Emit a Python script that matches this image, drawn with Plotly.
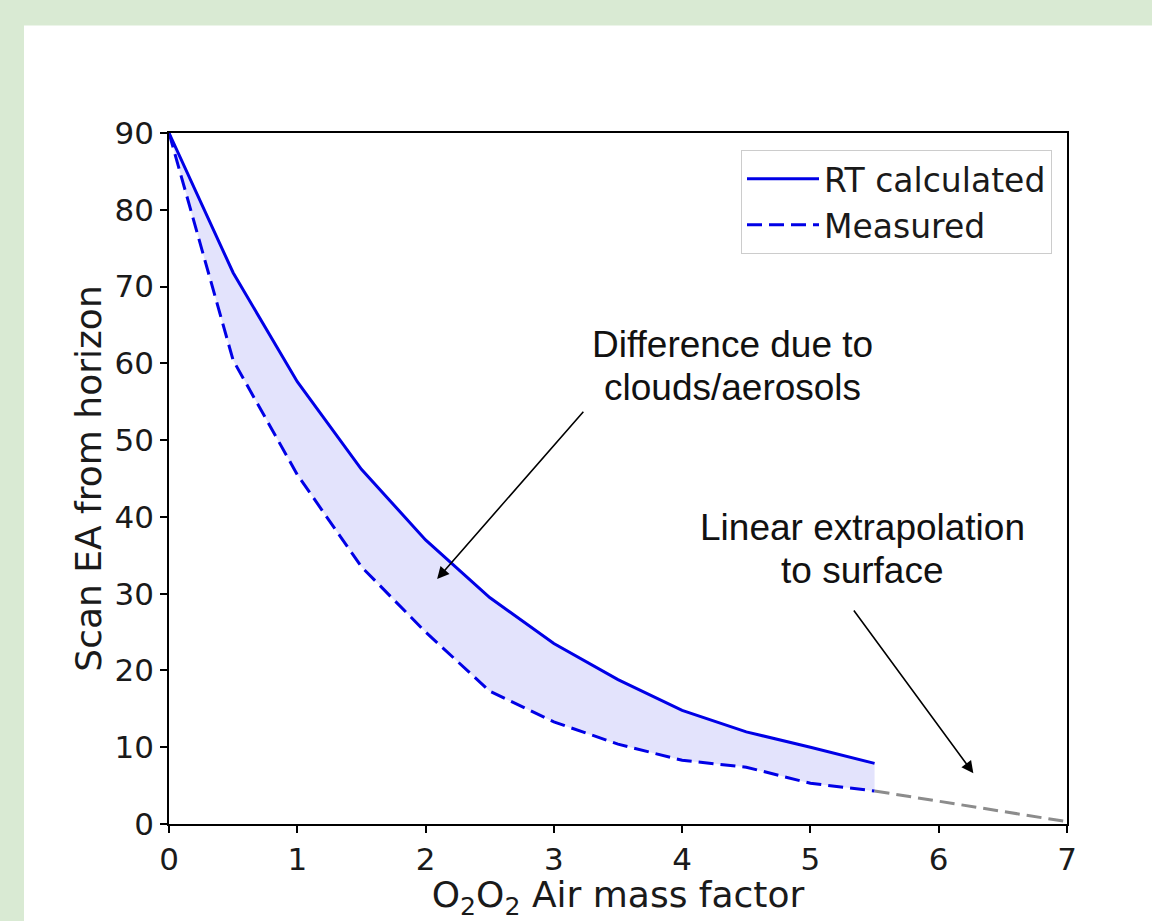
import plotly.graph_objects as go

# ---- data ----
amf = [0, 0.5, 1, 1.5, 2, 2.5, 3, 3.5, 4, 4.5, 5, 5.5]
rt_calculated = [90, 71.8, 57.6, 46.2, 37.0, 29.5, 23.5, 18.8, 14.8, 12.0, 10.0, 7.9]
measured = [90, 60.4, 45.5, 33.5, 25.0, 17.3, 13.3, 10.4, 8.3, 7.4, 5.3, 4.3]
extrap_x = [5.5, 7.0]
extrap_y = [4.3, 0.3]
x_ticks = [0, 1, 2, 3, 4, 5, 6, 7]
y_ticks = [0, 10, 20, 30, 40, 50, 60, 70, 80, 90]

W, H = 1152, 921
L, R, T, B = 169, 85, 133, 93
pw, ph = W - L - R, H - T - B

def px(xp):
    return (xp - L) / pw

def py(yp):
    return (H - B - yp) / ph

BLUE = "#0000e6"
TXT = "#1a1a1a"
TICKFONT = dict(family="DejaVu Sans", size=31, color=TXT)
TITLEFONT = dict(family="DejaVu Sans", size=36, color=TXT)
ANNFONT = dict(family="Liberation Sans, Arial", size=37, color="#111111")

fig = go.Figure()
# shaded band between the two curves (no legend entry)
fig.add_trace(go.Scatter(x=amf, y=measured, mode="lines", showlegend=False,
                         line=dict(width=0), hoverinfo="skip"))
fig.add_trace(go.Scatter(x=amf, y=rt_calculated, mode="lines", showlegend=False,
                         line=dict(width=0), fill="tonexty",
                         fillcolor="rgba(40,40,230,0.13)", hoverinfo="skip"))
# the curves
fig.add_trace(go.Scatter(x=amf, y=rt_calculated, mode="lines", name="RT calculated",
                         line=dict(color=BLUE, width=3)))
fig.add_trace(go.Scatter(x=amf, y=measured, mode="lines", name="Measured",
                         line=dict(color=BLUE, width=3, dash="15px,7px")))
fig.add_trace(go.Scatter(x=extrap_x, y=extrap_y, mode="lines", showlegend=False,
                         line=dict(color="#8c8c8c", width=3, dash="15px,7px")))

# green frame with white panel
fig.add_shape(type="rect", xref="paper", yref="paper",
              x0=px(24), x1=px(W + 5), y0=py(H + 5), y1=py(25),
              fillcolor="white", line=dict(width=0), layer="below")

axis_common = dict(showline=True, linecolor="black", linewidth=1.5, mirror=True,
                   ticks="outside", ticklen=7, tickwidth=1.5, tickcolor="black",
                   showgrid=False, zeroline=False, tickfont=TICKFONT)
fig.update_xaxes(range=[0, 7], tickvals=x_ticks, ticktext=[str(v) for v in x_ticks],
                 title=dict(text="O<sub>2</sub>O<sub>2</sub> Air mass factor",
                            font=TITLEFONT, standoff=7), **axis_common)
fig.update_yaxes(range=[0, 90], tickvals=y_ticks, ticktext=[str(v) for v in y_ticks],
                 title=dict(text="Scan EA from horizon", font=TITLEFONT, standoff=2),
                 **axis_common)

ann = []
# arrows (head at x,y ; tail at ax,ay) in data coords
ann.append(dict(x=2.09, y=31.9, ax=3.24, ay=53.9, xref="x", yref="y", axref="x", ayref="y",
                text="", showarrow=True, arrowhead=2, arrowsize=1.5, arrowwidth=1.6,
                arrowcolor="black"))
ann.append(dict(x=6.27, y=6.6, ax=5.33, ay=28.0, xref="x", yref="y", axref="x", ayref="y",
                text="", showarrow=True, arrowhead=2, arrowsize=1.5, arrowwidth=1.6,
                arrowcolor="black"))
# text lines
for txt, xc, yc in [("Difference due to", 732, 346), ("clouds/aerosols", 732, 389),
                    ("Linear extrapolation", 862, 530), ("to surface", 862, 573)]:
    ann.append(dict(x=px(xc), y=py(yc), xref="paper", yref="paper", text=txt,
                    showarrow=False, font=ANNFONT, xanchor="center", yanchor="middle"))

fig.update_layout(
    width=W, height=H,
    margin=dict(l=L, r=R, t=T, b=B),
    paper_bgcolor="#d9ead3", plot_bgcolor="white",
    font=dict(family="DejaVu Sans", color=TXT),
    annotations=ann,
    legend=dict(x=px(1052), y=py(150), xanchor="right", yanchor="top",
                traceorder="normal", itemwidth=72,
                bgcolor="rgba(255,255,255,0.85)", bordercolor="#cccccc", borderwidth=1,
                font=dict(family="DejaVu Sans", size=33, color=TXT)),
)

fig.write_html("out.html", config={"displayModeBar": False},
               post_script="document.body.style.margin='0';document.body.style.overflow='hidden';")
